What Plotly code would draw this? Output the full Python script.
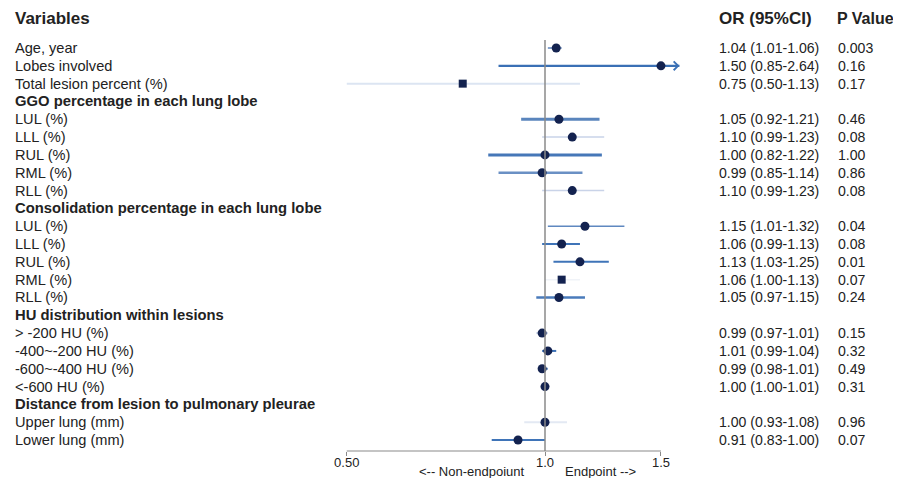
import math
import plotly.graph_objects as go

# ---------------- data ----------------
variables = [
    "Age, year", "Lobes involved", "Total lesion percent (%)",
    "LUL (%)", "LLL (%)", "RUL (%)", "RML (%)", "RLL (%)",
    "LUL (%)", "LLL (%)", "RUL (%)", "RML (%)", "RLL (%)",
    "> -200 HU (%)", "-400~-200 HU (%)", "-600~-400 HU (%)", "<-600 HU (%)",
    "Upper lung (mm)", "Lower lung (mm)",
]
group_headers = [
    "GGO percentage in each lung lobe",
    "Consolidation percentage in each lung lobe",
    "HU distribution within lesions",
    "Distance from lesion to pulmonary pleurae",
]
group_starts = [3, 8, 13, 17]  # variable index before which each header appears

or_vals = [1.04, 1.50, 0.75, 1.05, 1.10, 1.00, 0.99, 1.10, 1.15, 1.06, 1.13, 1.06, 1.05,
           0.99, 1.01, 0.99, 1.00, 1.00, 0.91]
ci_low = [1.01, 0.85, 0.50, 0.92, 0.99, 0.82, 0.85, 0.99, 1.01, 0.99, 1.03, 1.00, 0.97,
          0.97, 0.99, 0.98, 1.00, 0.93, 0.83]
ci_high = [1.06, 2.64, 1.13, 1.21, 1.23, 1.22, 1.14, 1.23, 1.32, 1.13, 1.25, 1.13, 1.15,
           1.01, 1.04, 1.01, 1.01, 1.08, 1.00]
p_vals = ["0.003", "0.16", "0.17", "0.46", "0.08", "1.00", "0.86", "0.08", "0.04", "0.08",
          "0.01", "0.07", "0.24", "0.15", "0.32", "0.49", "0.31", "0.96", "0.07"]

tick_vals = [0.5, 1.0, 1.5]
tick_text = ["0.50", "1.0", "1.5"]

# ---------------- styles ----------------
line_colors = ["#5b82bb", "#3a70b5", "#dce5f2", "#5a85bd", "#c9d3e8", "#4677b8", "#6a90c4",
               "#c9d3e8", "#5f88c0", "#3f74b8", "#3f74b8", "#f0f3f8", "#4a7bbb",
               "#c9d3e8", "#3f74b8", "#5a85bd", "#5a85bd", "#e3e9f3", "#3f74b8"]
line_widths = [1.5, 2.2, 2, 3, 1.5, 3, 2.5, 1.5, 1.5, 2, 2, 1.5, 2.5, 2, 2, 2, 2, 2, 2]
marker_symbols = ["circle", "circle", "square", "circle", "circle", "circle", "circle",
                  "circle", "circle", "circle", "circle", "square", "circle",
                  "circle", "circle", "circle", "circle", "circle", "circle"]
x_max = 1.6
FONT = "Liberation Sans, Arial, sans-serif"
TXT = "#222222"
OFF = 8  # page body margin

# row positions
var_rows = []
header_rows = []
r = 0
for i in range(len(variables)):
    if i in group_starts:
        header_rows.append(r)
        r += 1
    var_rows.append(r)
    r += 1

W, H = 901, 478
row_px0 = 48 - OFF      # pixel of first row in figure
row_step = 17.82
plot_h = 451 - OFF      # pixel of x axis in figure
x_one = 545 - OFF       # pixel of OR = 1
ppl = 658.5             # px per log10 unit

fig = go.Figure()

for i, row in enumerate(var_rows):
    hi = min(ci_high[i], x_max)
    fig.add_trace(go.Scatter(
        x=[ci_low[i], hi], y=[row, row], mode="lines",
        line=dict(color=line_colors[i], width=line_widths[i]),
        hoverinfo="skip", showlegend=False))

fig.add_trace(go.Scatter(
    x=or_vals, y=var_rows, mode="markers",
    marker=dict(color="#13224f", opacity=1,
                size=[8 if s == "square" else 9 for s in marker_symbols],
                symbol=marker_symbols, line=dict(width=0)),
    showlegend=False))

# arrow for truncated CI
for i, row in enumerate(var_rows):
    if ci_high[i] > x_max:
        fig.add_annotation(x=math.log10(x_max), y=row, ax=math.log10(x_max * 0.97), ay=row,
                           xref="x", yref="y", axref="x", ayref="y", text="",
                           showarrow=True, arrowhead=4, arrowsize=1.3, arrowwidth=1.3,
                           arrowcolor="#3a70b5")

annotations = []
def txt(xpx, y, s, size=14, bold=False, xanchor="left", yref="y", yanchor="middle"):
    annotations.append(dict(
        x=(xpx - OFF) / W, y=y, xref="paper", yref=yref,
        text=("<b>%s</b>" % s) if bold else s,
        showarrow=False, xanchor=xanchor, yanchor=yanchor,
        font=dict(family=FONT, size=size, color=TXT)))

header_y = (18 - 48) / row_step
txt(13, header_y, "Variables", size=17, bold=True)
txt(717, header_y, "OR (95%CI)", size=17, bold=True)
txt(835, header_y, "P Value", size=16, bold=True)

for h, row in zip(group_headers, header_rows):
    txt(13, row, h, size=14.8, bold=True)
for i, row in enumerate(var_rows):
    txt(13, row, variables[i], size=14.6)
    txt(717, row, "%.2f (%.2f-%.2f)" % (or_vals[i], ci_low[i], ci_high[i]), size=14.1)
    txt(836, row, p_vals[i], size=14.1)

lab_y = -(462 - 451) / plot_h
txt(527, lab_y, "<-- Non-endpoiunt", size=13, xanchor="right", yref="paper", yanchor="top")
txt(563, lab_y, "Endpoint -->", size=13, xanchor="left", yref="paper", yanchor="top")

fig.update_layout(annotations=list(fig.layout.annotations) + annotations)

# reference line at OR = 1 and axis line
fig.add_shape(type="line", xref="x", yref="y", x0=1.0, x1=1.0,
              y0=(40 - 48) / row_step, y1=(451 - 48) / row_step,
              line=dict(color="#8a8a8a", width=1.5))
fig.add_shape(type="line", xref="x", yref="paper", x0=tick_vals[0], x1=tick_vals[-1], y0=0, y1=0,
              line=dict(color="#8a8a8a", width=1.2))

x0_px, x1_px = 330 - OFF, 690 - OFF
fig.update_layout(
    width=W, height=H,
    margin=dict(l=0, r=0, t=0, b=H - plot_h),
    paper_bgcolor="white", plot_bgcolor="white",
    xaxis=dict(type="log", domain=[x0_px / W, x1_px / W],
               range=[(x0_px - x_one) / ppl, (x1_px - x_one) / ppl],
               tickvals=tick_vals, ticktext=tick_text, ticks="outside", ticklen=4,
               tickcolor="#8a8a8a", showgrid=False, showline=False, zeroline=False,
               ticklabelstandoff=-5,
               tickfont=dict(family=FONT, size=13, color=TXT)),
    yaxis=dict(range=[(plot_h - row_px0) / row_step, -row_px0 / row_step],
               visible=False, showgrid=False, zeroline=False),
)

fig.write_html("out.html")
